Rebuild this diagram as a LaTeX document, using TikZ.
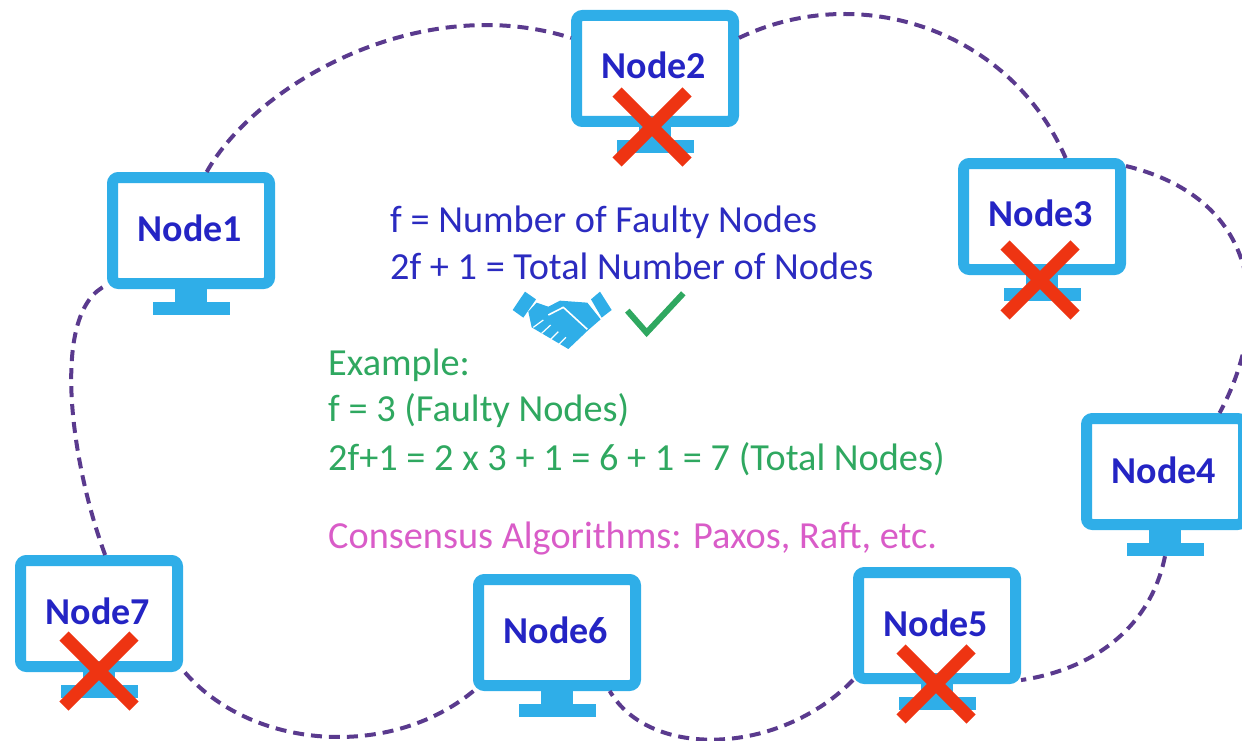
\documentclass[tikz,border=0pt]{standalone}
\usepackage{fontspec}
\setmainfont{Carlito}
\definecolor{mon}{HTML}{2FAEE8}
\definecolor{nodeblue}{HTML}{2424C4}
\definecolor{cross}{HTML}{EE3412}
\definecolor{dashp}{HTML}{5A3A8E}
\definecolor{txtblue}{HTML}{2B2BC0}
\definecolor{txtgreen}{HTML}{2FA860}
\definecolor{txtpink}{HTML}{D95CC8}
\tikzset{
 screen/.style={draw=mon,line width=11pt,rounded corners=6pt,fill=white,minimum width=157pt,minimum height=106pt,inner sep=0pt,outer sep=5.5pt},
 standbase/.style={fill=mon,minimum width=77pt,minimum height=13pt,inner sep=0pt},
 lab/.style={text=nodeblue,font=\fontsize{38}{38}\selectfont\bfseries,inner sep=0pt},
 xmark/.style={draw=cross,line width=13pt},
 link/.style={draw=dashp,line width=4pt,dash pattern=on 11pt off 7pt},
 tblue/.style={text=txtblue,font=\fontsize{38.3}{38.3}\selectfont,anchor=base west,inner sep=0pt},
 tgreen/.style={text=txtgreen,font=\fontsize{38.3}{38.3}\selectfont,anchor=base west,inner sep=0pt},
 tpink/.style={text=txtpink,font=\fontsize{38.3}{38.3}\selectfont,anchor=base west,inner sep=0pt},
}
\newcommand{\monitor}[5]{% id, cx, cy(screen centre), label, label y
 \node[standbase] (b#1) at (#2,#3+78) {};
 \fill[mon] (#2-16,#3+55) rectangle (#2+16,#3+74);
 \node[screen] (n#1) at (#2,#3) {};
 \node[lab] (l#1) at (#2-1,#5) {#4};
}
\newcommand{\crossmark}[3]{% id, cx, cy
 \coordinate (c#1a) at (#2-35,#3-35);
 \coordinate (c#1b) at (#2+35,#3+35);
 \coordinate (c#1c) at (#2+35,#3-35);
 \coordinate (c#1d) at (#2-35,#3+35);
 \draw[xmark] (c#1a) -- (c#1b);
 \draw[xmark] (c#1c) -- (c#1d);
}
\begin{document}
\begin{tikzpicture}[x=1pt,y=-1pt]
\useasboundingbox (0,0) rectangle (1242,741);
\monitor{1}{191}{230.5}{Node1}{228}
\monitor{2}{655}{68.5}{Node2}{65}
\monitor{3}{1042}{216.5}{Node3}{213}
\monitor{4}{1165}{471.5}{Node4}{470}
\monitor{5}{937}{625.5}{Node5}{623}
\monitor{6}{557}{632.5}{Node6}{630}
\monitor{7}{99}{613.5}{Node7}{611}
\crossmark{2}{652}{127}
\crossmark{3}{1040}{280}
\crossmark{5}{936}{684}
\crossmark{7}{99}{671}
% dashed cloud
\draw[link] (n1.75) .. controls (255,85) and (420,-10) .. (n2.160);
\draw[link] (n2.20) .. controls (860,-20) and (1010,30) .. (n3.68);
\draw[link] (n3.31) .. controls (1265,200) and (1270,320) .. (n4.47);
\draw[link] (b4.south) .. controls (1150,630) and (1090,670) .. (n5.-33);
\draw[link] (n5.-147) .. controls (780,755) and (650,760) .. (n6.-48);
\draw[link] (n6.-145) .. controls (390,760) and (250,750) .. (n7.-34);
\draw[link] (n7.84) .. controls (70,460) and (50,310) .. (n1.-147);
% text
\node[tblue] (t1) at (390,232) {f = Number of Faulty Nodes};
\node[tblue] (t2) at (390,279) {2f + 1 = Total Number of Nodes};
\node[tgreen] (t3) at (328,375) {Example:};
\node[tgreen] (t4) at (328,421) {f = 3 (Faulty Nodes)};
\node[tgreen] (t5) at (328,470) {2f+1 = 2 x 3 + 1 = 6 + 1 = 7 (Total Nodes)};
\node[tpink] (t6) at (328,548) {Consensus Algorithms: Paxos, Raft, etc.};
% handshake
\begin{scope}[shift={(480,270)},x=0.3333pt,y=-0.3333pt]
 \fill[mon] (98,120) -- (135,65) -- (168,88) -- (130,143) -- cycle;
 \fill[mon] (333,88) -- (360,65) -- (395,120) -- (365,143) -- cycle;
 \fill[mon] (145,125) -- (170,98) -- (205,110) -- (240,92) -- (322,98) -- (362,148) -- (325,180) -- (265,237) -- (155,172) -- cycle;
 \draw[white,line width=1.6pt,line join=round] (205,135) -- (250,112) -- (322,178);
 \draw[white,line width=1.2pt] (160,172) -- (190,150);
 \draw[white,line width=1.2pt] (185,190) -- (212,165);
 \draw[white,line width=1.2pt] (212,208) -- (235,185);
 \draw[white,line width=1.2pt] (238,222) -- (258,202);
 \draw[txtgreen,line width=6pt] (442,122) -- (500,188) -- (610,70);
\end{scope}
\end{tikzpicture}
\end{document}
